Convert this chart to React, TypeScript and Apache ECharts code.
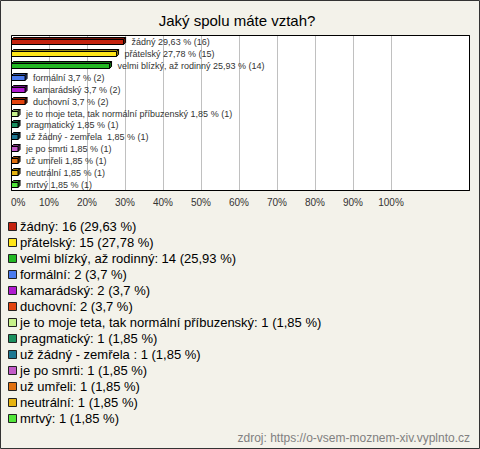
import React, { useEffect, useRef } from "react";
import * as echarts from "echarts";

const categories = [
  "žádný",
  "přátelský",
  "velmi blízký, až rodinný",
  "formální",
  "kamarádský",
  "duchovní",
  "je to moje teta, tak normální příbuzenský",
  "pragmatický",
  "už žádný - zemřela ",
  "je po smrti",
  "už umřeli",
  "neutrální",
  "mrtvý",
];
const counts = [16, 15, 14, 2, 2, 2, 1, 1, 1, 1, 1, 1, 1];
const percents = [29.63, 27.78, 25.93, 3.7, 3.7, 3.7, 1.85, 1.85, 1.85, 1.85, 1.85, 1.85, 1.85];
const colors = [
  "#c4230f",
  "#ffe619",
  "#22b822",
  "#4b7bee",
  "#b01ad0",
  "#e2430e",
  "#c6f08a",
  "#1a9060",
  "#1f7893",
  "#c25ac8",
  "#e0700f",
  "#e6b412",
  "#52e63a",
];
const xTicks = [0, 10, 20, 30, 40, 50, 60, 70, 80, 90, 100];
const title = "Jaký spolu máte vztah?";
const source = "zdroj: https://o-vsem-moznem-xiv.vyplnto.cz";

const FONT = "Arial, 'Liberation Sans', sans-serif";

function fmt(p: number): string {
  return String(p).replace(".", ",");
}

function darker(hex: string, f = 0.6): string {
  const n = parseInt(hex.slice(1), 16);
  const r = Math.round(((n >> 16) & 255) * f);
  const g = Math.round(((n >> 8) & 255) * f);
  const b = Math.round((n & 255) * f);
  return `rgb(${r},${g},${b})`;
}

export default function App() {
  const ref = useRef<HTMLDivElement>(null);
  useEffect(() => {
    if (!ref.current) return;
    const chart = echarts.init(ref.current, undefined, { renderer: "svg" });

    const legendEls: any[] = [];
    categories.forEach((name, i) => {
      const cy = 226.5 + i * 15.96;
      legendEls.push({
        type: "rect",
        shape: { x: 8.5, y: Math.round(cy - 4.5) + 0.5, width: 8, height: 8 },
        style: { fill: colors[i], stroke: "#222", lineWidth: 1 },
      });
      legendEls.push({
        type: "text",
        x: 20,
        y: cy,
        style: {
          text: `${name}: ${counts[i]} (${fmt(percents[i])} %)`,
          fontSize: 13,
          fontFamily: FONT,
          fill: "#000",
          verticalAlign: "middle",
          align: "left",
        },
      });
    });

    const option: any = {
      animation: false,
      backgroundColor: "#f3f2ea",
      grid: { left: 11, top: 35, width: 380, height: 155 },
      xAxis: {
        type: "value",
        min: 0,
        max: 100,
        interval: 10,
        axisLine: { show: false },
        axisTick: { show: false },
        splitLine: { show: true, lineStyle: { color: "#c0c0c0", width: 1 } },
        axisLabel: {
          formatter: (v: number) => (xTicks.includes(v) ? `${v}%` : ""),
          fontSize: 10,
          fontFamily: FONT,
          color: "#333",
          margin: 7,
          alignMinLabel: "left",
        },
      },
      yAxis: {
        type: "category",
        data: categories,
        inverse: true,
        show: false,
      },
      graphic: [
        {
          type: "rect",
          z: -1,
          shape: { x: 0.5, y: 0.5, width: 479, height: 448 },
          style: { fill: "#f3f2ea", stroke: "#333", lineWidth: 1 },
        },
        {
          type: "rect",
          z: -1,
          shape: { x: 11.5, y: 35.5, width: 458, height: 155 },
          style: { fill: "#ffffff", stroke: "#000", lineWidth: 1 },
        },
        {
          type: "rect",
          z: 5,
          shape: { x: 11.5, y: 35.5, width: 458, height: 155 },
          style: { fill: "none", stroke: "#000", lineWidth: 1 },
          silent: true,
        },
        {
          type: "text",
          x: 237,
          y: 20,
          style: {
            text: title,
            fontSize: 15,
            fontFamily: FONT,
            fill: "#000",
            align: "center",
            verticalAlign: "middle",
          },
        },
        {
          type: "text",
          x: 470,
          y: 438,
          style: {
            text: source,
            fontSize: 12,
            fontFamily: FONT,
            fill: "#808080",
            align: "right",
            verticalAlign: "middle",
          },
        },
        ...legendEls,
      ],
      series: [
        {
          type: "custom",
          data: percents.map((p, i) => [p, i]),
          renderItem: (params: any, api: any) => {
            const i = params.dataIndex;
            const v = api.value(0);
            const idx = api.value(1);
            const p0 = api.coord([0, idx]);
            const p1 = api.coord([v, idx]);
            const c = Math.round(p0[1]);
            const x0 = p0[0] + 0.5;
            const x1 = p1[0];
            const d = 2;
            const top = c - 1.5;
            const bot = c + 3.5;
            const color = colors[i];
            const dk = darker(color);
            return {
              type: "group",
              children: [
                {
                  type: "polygon",
                  shape: { points: [[x0, top], [x0 + d, top - d], [x1 + d, top - d], [x1, top]] },
                  style: { fill: dk, stroke: "#000", lineWidth: 1 },
                },
                {
                  type: "polygon",
                  shape: { points: [[x1, top], [x1 + d, top - d], [x1 + d, bot - d], [x1, bot]] },
                  style: { fill: dk, stroke: "#000", lineWidth: 1 },
                },
                {
                  type: "rect",
                  shape: { x: x0, y: top, width: x1 - x0, height: bot - top },
                  style: { fill: color, stroke: "#000", lineWidth: 1 },
                },
                {
                  type: "text",
                  x: x1 + 8,
                  y: c + 1,
                  style: {
                    text: `${categories[i]} ${fmt(percents[i])} % (${counts[i]})`,
                    fontSize: 9,
                    fontFamily: FONT,
                    fill: "#333",
                    align: "left",
                    verticalAlign: "middle",
                  },
                },
              ],
            };
          },
        },
      ],
    };
    chart.setOption(option);
    return () => chart.dispose();
  }, []);
  return (
    <div
      ref={ref}
      style={{ position: "fixed", left: 0, top: 0, width: 480, height: 449 }}
    />
  );
}
